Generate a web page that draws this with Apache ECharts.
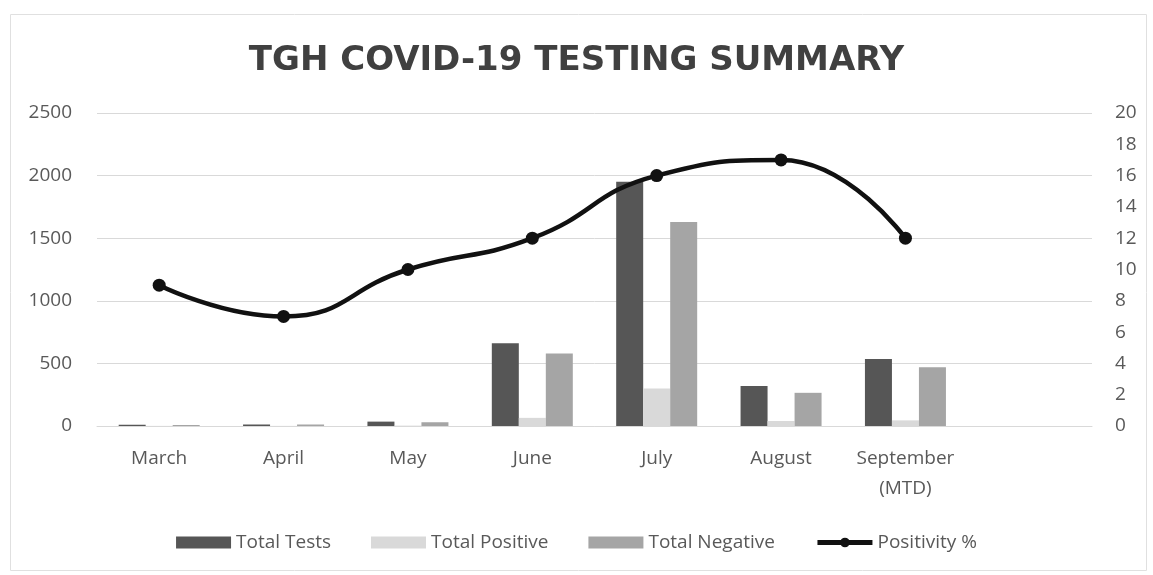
<!DOCTYPE html>
<html>
<head>
<meta charset="utf-8">
<script src="https://cdn.jsdelivr.net/npm/echarts@6/dist/echarts.min.js"></script>
<style>
  html, body { margin: 0; padding: 0; background: #fff; }
  #chart { width: 1153px; height: 575px; }
</style>
</head>
<body>
<div id="chart"></div>
<script>
// months shown on the axis (last slot is empty in the original)
var months = ["March", "April", "May", "June", "July", "August", "September\n(MTD)", ""];
var totalTests = [10, 12, 35, 660, 1950, 320, 535, null];
var totalPositive = [1, 1, 3, 65, 300, 40, 45, null];
var totalNegative = [8, 12, 30, 580, 1630, 265, 470, null];
var positivity = [9, 7, 10, 12, 16, 17, 12, null];

var leftTicks = { min: 0, max: 2500, interval: 500 };
var rightTicks = { min: 0, max: 20, interval: 2 };

var labelColor = "#595959";
var font = "'Open Sans', sans-serif";

var chart = echarts.init(document.getElementById("chart"));
chart.setOption({
  animation: false,
  color: ["#565656", "#d9d9d9", "#a5a5a5", "#111111"],
  title: {
    text: "TGH COVID-19 TESTING SUMMARY",
    left: "center",
    top: 39,
    textStyle: {
      fontFamily: "'DejaVu Sans', sans-serif",
      fontSize: 34,
      fontWeight: "bold",
      color: "#404040"
    }
  },
  legend: {
    bottom: 18,
    left: "center",
    itemWidth: 55,
    itemHeight: 12,
    itemGap: 40,
    textStyle: { fontFamily: font, fontSize: 19, color: labelColor },
    data: [
      { name: "Total Tests", icon: "rect" },
      { name: "Total Positive", icon: "rect" },
      { name: "Total Negative", icon: "rect" },
      { name: "Positivity %", lineStyle: { width: 5 } }
    ]
  },
  grid: {
    left: 97,
    right: 61,
    top: 113,
    bottom: 149
  },
  xAxis: {
    type: "category",
    data: months,
    axisTick: { show: false },
    axisLine: { lineStyle: { color: "#d9d9d9", width: 1 } },
    axisLabel: {
      interval: 0,
      fontFamily: font,
      fontSize: 19,
      color: labelColor,
      margin: 18,
      lineHeight: 30
    }
  },
  yAxis: [
    {
      type: "value",
      min: leftTicks.min,
      max: leftTicks.max,
      interval: leftTicks.interval,
      axisLine: { show: false },
      axisTick: { show: false },
      splitLine: { lineStyle: { color: "#d9d9d9" } },
      axisLabel: {
        fontFamily: font,
        fontSize: 19,
        color: labelColor,
        margin: 25,
        formatter: function (v) { return String(v); }
      }
    },
    {
      type: "value",
      min: rightTicks.min,
      max: rightTicks.max,
      interval: rightTicks.interval,
      axisLine: { show: false },
      axisTick: { show: false },
      splitLine: { show: false },
      axisLabel: { fontFamily: font, fontSize: 19, color: labelColor, margin: 23 }
    }
  ],
  series: [
    {
      name: "Total Tests",
      type: "bar",
      barWidth: 27,
      barGap: "0%",
      data: totalTests
    },
    {
      name: "Total Positive",
      type: "bar",
      barWidth: 27,
      barGap: "0%",
      data: totalPositive
    },
    {
      name: "Total Negative",
      type: "bar",
      barWidth: 27,
      barGap: "0%",
      data: totalNegative
    },
    {
      name: "Positivity %",
      type: "line",
      yAxisIndex: 1,
      smooth: 0.5,
      symbol: "circle",
      symbolSize: 13,
      lineStyle: { width: 4.5, color: "#111111" },
      itemStyle: { color: "#111111" },
      z: 5,
      data: positivity
    }
  ],
  graphic: [
    {
      type: "rect",
      left: 8,
      top: 12,
      shape: { width: 1136, height: 556 },
      style: { fill: "none", stroke: "#e0e0e0", lineWidth: 1 },
      silent: true
    }
  ]
});
</script>
</body>
</html>
